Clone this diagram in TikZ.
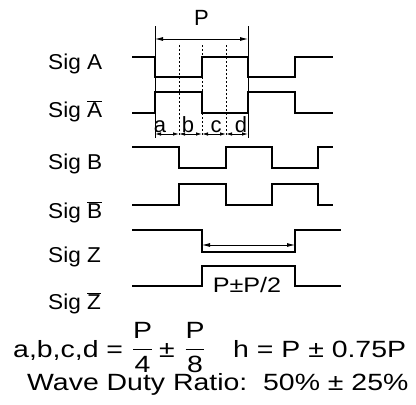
\documentclass[tikz,border=0pt]{standalone}
\usepackage{fontspec}
\setmainfont{Liberation Sans}
\usepackage{graphicx}
\usetikzlibrary{arrows.meta}
\newcommand{\ovl}[1]{\ensuremath{\overline{\mbox{#1}}}}
\newcommand{\sx}[2]{\scalebox{#1}[1]{#2}}
\newcommand{\myfrac}[2]{$\displaystyle\frac{\mbox{#1}}{\mbox{#2}}$}
\begin{document}
\begin{tikzpicture}[x=1pt,y=-1pt,
  wave/.style={line width=1.8pt, line join=miter},
  dimline/.style={line width=0.8pt},
  dimarrow/.style={line width=0.8pt, {Latex[length=8pt,width=4pt]}-{Latex[length=8pt,width=4pt]}},
  smallarrow/.style={line width=0.9pt, {Latex[length=6pt,width=3.5pt]}-{Latex[length=6pt,width=3.5pt]}},
  guide/.style={line width=0.6pt, dash pattern=on 1.5pt off 2.5pt},
  siglab/.style={anchor=base west, inner sep=0pt, font=\fontsize{21.5}{26}\selectfont},
  seglab/.style={anchor=base, inner sep=0pt, font=\fontsize{22}{26}\selectfont},
  big/.style={anchor=base, inner sep=0pt, font=\fontsize{23.5}{28}\selectfont}]
\useasboundingbox (0,0) rectangle (416,405);
% labels
\node[siglab] (la)  at (48,69)  {\sx{1.05}{Sig A}};
\node[siglab] (lab) at (48,117) {\sx{1.05}{Sig \ovl{A}}};
\node[siglab] (lb)  at (48,169) {\sx{1.05}{Sig B}};
\node[siglab] (lbb) at (48,218) {\sx{1.05}{Sig \ovl{B}}};
\node[siglab] (lz)  at (48,262) {\sx{1.05}{Sig Z}};
\node[siglab] (lzb) at (48,309) {\sx{1.05}{Sig \ovl{Z}}};
% waveforms
\draw[wave] (132,57) -| (155,77) -| (202,57) -| (248,77) -| (295,57) -- (333,57);
\draw[wave] (132,113) -| (155,92) -| (202,113) -| (248,92) -| (295,113) -- (333,113);
\draw[wave] (132,147) -| (179,168) -| (226,147) -| (272,168) -| (318,147) -- (333,147);
\draw[wave] (132,205) -| (179,184) -| (226,205) -| (272,184) -| (318,205) -- (333,205);
\draw[wave] (132,230) -| (202,252) -| (295,230) -- (341,230);
\draw[wave] (132,286) -| (202,266) -| (295,286) -- (341,286);
% dimension lines
\coordinate (v1t) at (155,26); \coordinate (v1b) at (155,138);
\coordinate (v2t) at (248,26); \coordinate (v2b) at (248,138);
\draw[dimline] (v1t) -- (v1b);
\draw[dimline] (v2t) -- (v2b);
\foreach \x/\n in {179/g1,202/g2,226/g3}{
  \coordinate (\n t) at (\x,45); \coordinate (\n b) at (\x,137);
  \draw[guide] (\n t) -- (\n b);
}
\coordinate (pa) at (155,39); \coordinate (pb) at (248,39);
\draw[dimarrow] (pa) -- (pb);
\node[anchor=base, inner sep=0pt, font=\fontsize{22}{26}\selectfont] (P) at (201.5,25) {P};
\coordinate (s0) at (155,134); \coordinate (s1) at (179,134);
\coordinate (s2) at (202,134); \coordinate (s3) at (226,134);
\coordinate (s4) at (248,134);
\draw[smallarrow] (s0) -- (s1);
\draw[smallarrow] (s1) -- (s2);
\draw[smallarrow] (s2) -- (s3);
\draw[smallarrow] (s3) -- (s4);
\node[seglab] (sa) at (160,132) {a};
\node[seglab] (sb) at (188,132) {b};
\node[seglab] (sc) at (216,132) {c};
\node[seglab] (sd) at (241,132) {d};
\coordinate (za) at (202,245); \coordinate (zb) at (295,245);
\draw[dimarrow] (za) -- (zb);
\node[anchor=base, inner sep=0pt, font=\fontsize{21}{25}\selectfont] (pp) at (247,292) {\sx{1.2}{P±P/2}};
% formulas
\node[big, anchor=base west] (f1) at (13,357) {\sx{1.21}{a,b,c,d =}};
\node[big] (fr1) at (142.5,355.5) {\sx{1.21}{\myfrac{P}{4}}};
\node[big] (pm) at (167,357) {\sx{1.21}{±}};
\node[big] (fr2) at (195,355.5) {\sx{1.21}{\myfrac{P}{8}}};
\node[big, anchor=base west] (h) at (233,357) {\sx{1.21}{h = P ± 0.75P}};
\node[big, anchor=base west] (w) at (27,390.5) {\sx{1.21}{Wave Duty Ratio:\ \ 50\% ± 25\%}};
\end{tikzpicture}
\end{document}
